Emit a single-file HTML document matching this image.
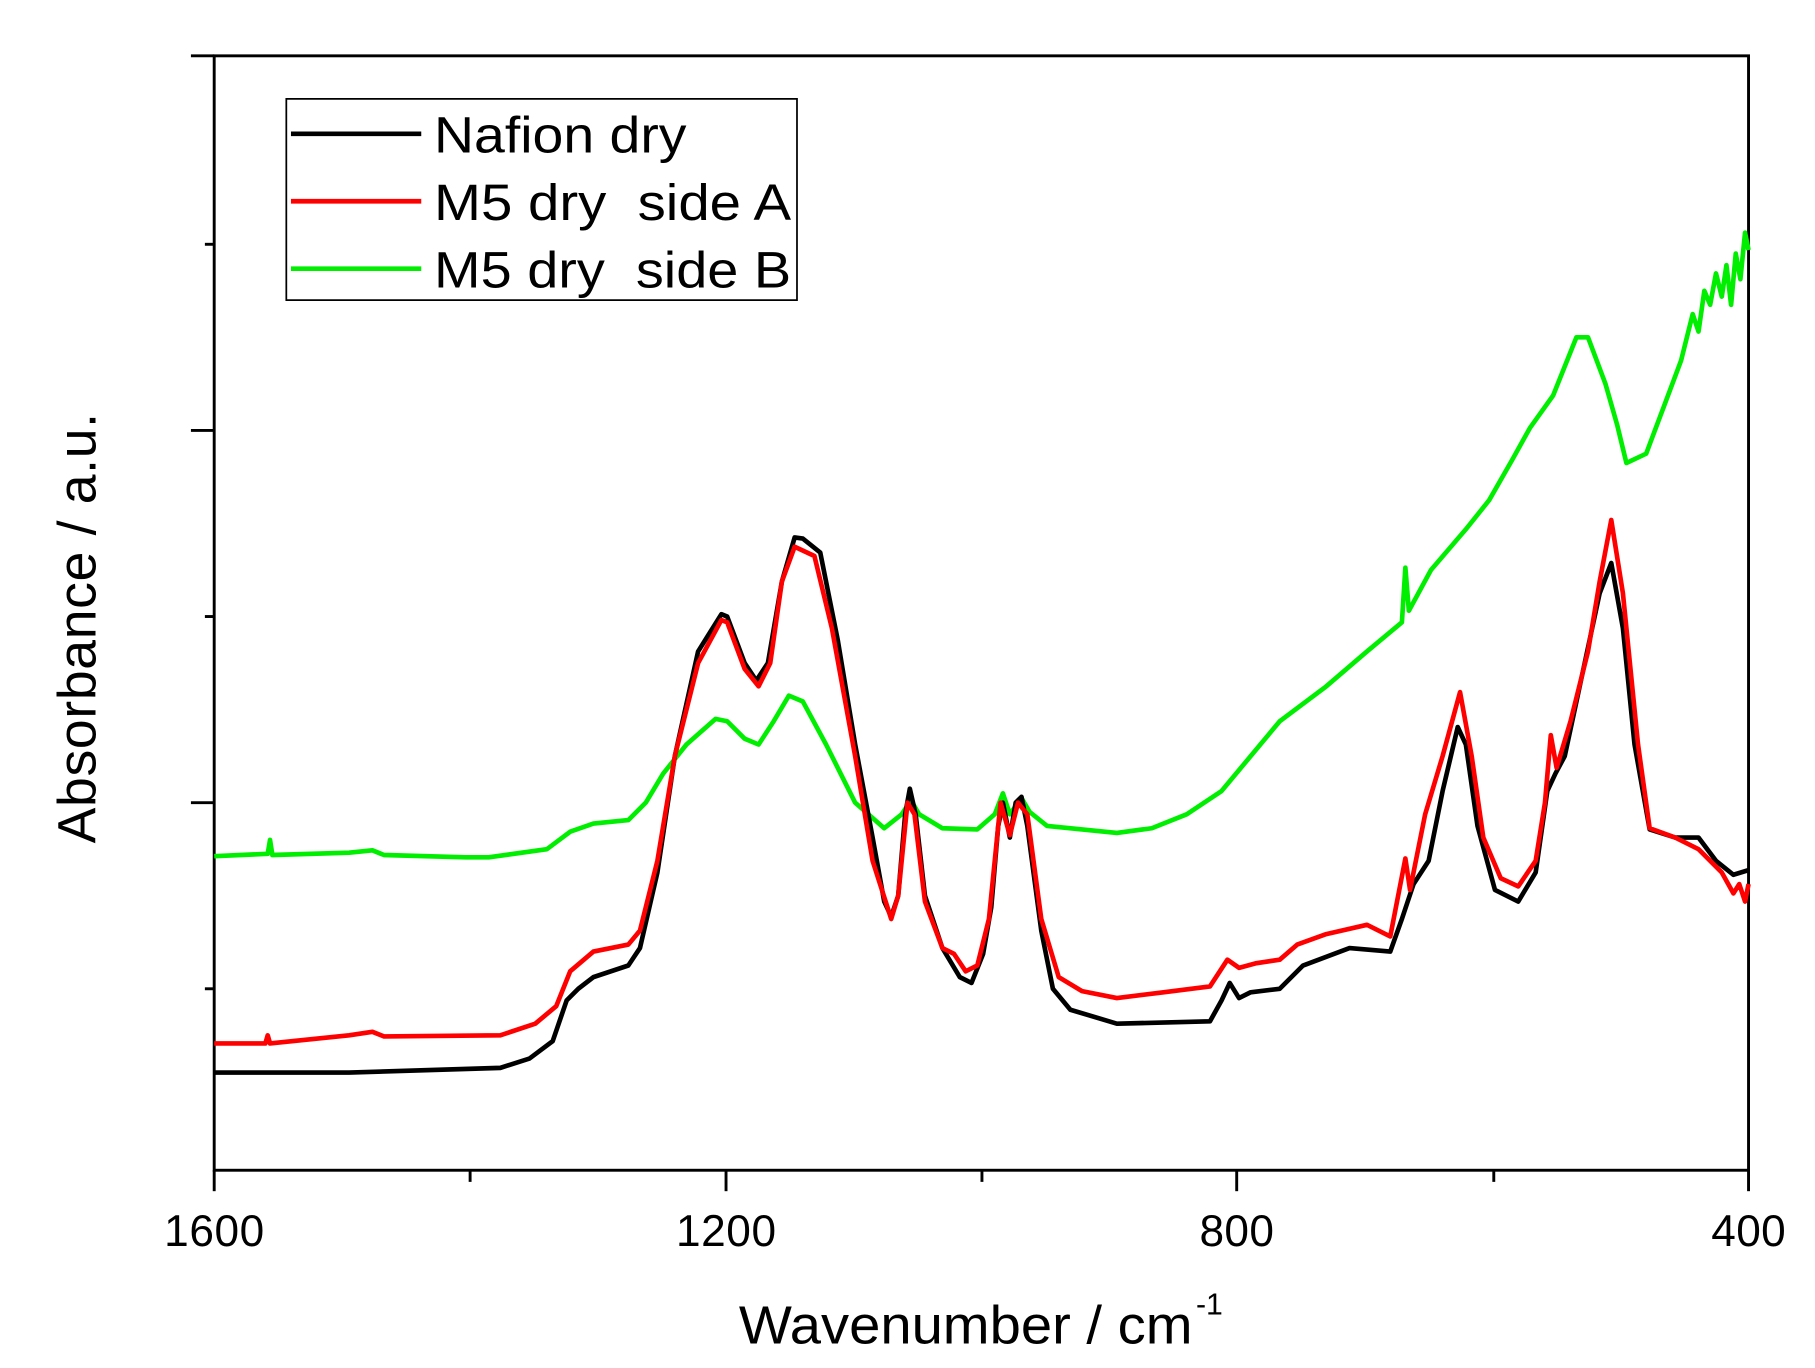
<!DOCTYPE html>
<html><head><style>html,body{margin:0;padding:0;background:#fff}svg{display:block}</style></head><body>
<svg width="1815" height="1368" viewBox="0 0 1560 1176" xmlns="http://www.w3.org/2000/svg" font-family="Liberation Sans, Arial, sans-serif">
<rect width="1560" height="1176" fill="#fff"/>
<g stroke="#000" stroke-width="2.5" fill="none">
<rect x="184" y="48" width="1319" height="958"/>
<line x1="164" y1="48" x2="184" y2="48"/>
<line x1="176" y1="210" x2="184" y2="210"/>
<line x1="164" y1="370" x2="184" y2="370"/>
<line x1="176" y1="530" x2="184" y2="530"/>
<line x1="164" y1="690" x2="184" y2="690"/>
<line x1="176" y1="850" x2="184" y2="850"/>
<line x1="184" y1="1006" x2="184" y2="1024"/>
<line x1="404" y1="1006" x2="404" y2="1016"/>
<line x1="624" y1="1006" x2="624" y2="1024"/>
<line x1="844" y1="1006" x2="844" y2="1016"/>
<line x1="1063" y1="1006" x2="1063" y2="1024"/>
<line x1="1284" y1="1006" x2="1284" y2="1016"/>
<line x1="1503" y1="1006" x2="1503" y2="1024"/>
</g>
<g font-size="38" text-anchor="middle" fill="#000">
<text x="184" y="1071" textLength="86">1600</text><text x="624" y="1071" textLength="86">1200</text><text x="1063" y="1071" textLength="64">800</text><text x="1503" y="1071" textLength="64">400</text>
</g>
<text x="635" y="1155" font-size="46" textLength="390" lengthAdjust="spacingAndGlyphs">Wavenumber / cm</text>
<text x="1028" y="1130" font-size="26">-1</text>
<text transform="translate(82,540) rotate(-90)" font-size="46" text-anchor="middle" textLength="370">Absorbance / a.u.</text>
<g fill="none" stroke-width="4" stroke-linejoin="round">
<polyline stroke="#00ee00" points="184,736 230,734 232,722 234,735 300,733 320,731 330,735 400,737 420,737 470,730 490,715 510,708 540,705 555,690 570,665 590,640 615,618 625,620 640,635 652,640 665,620 678,598 690,603 710,640 735,690 760,712 775,700 783,688 790,700 810,712 840,713 855,700 862,682 868,700 878,686 885,698 900,710 960,716 990,712 1020,700 1050,680 1075,650 1100,620 1140,590 1175,560 1205,535 1208,488 1211,525 1230,490 1260,455 1280,430 1300,395 1315,368 1335,340 1355,290 1365,290 1380,330 1390,365 1398,398 1415,390 1430,350 1445,310 1455,270 1460,285 1465,250 1470,262 1475,235 1480,255 1484,228 1488,262 1492,218 1496,240 1500,200 1503,215"/>
<polyline stroke="#000" points="184,922 300,922 430,918 455,910 475,895 487,860 497,850 510,840 540,830 550,815 565,750 580,650 600,560 620,528 625,530 640,570 650,585 660,570 672,500 683,462 690,463 705,475 720,550 735,640 750,720 760,775 766,788 772,770 778,700 782,678 787,700 795,770 810,815 825,840 835,845 845,820 852,780 858,710 862,690 868,720 873,690 878,685 883,710 895,800 905,850 920,868 960,880 1040,878 1050,860 1057,845 1065,858 1075,853 1100,850 1120,830 1160,815 1195,818 1205,790 1215,760 1228,740 1240,680 1253,625 1260,640 1270,710 1285,765 1305,775 1320,750 1330,680 1337,665 1345,650 1360,580 1375,510 1385,484 1395,540 1405,640 1418,713 1440,720 1460,720 1475,740 1490,752 1503,748"/>
<polyline stroke="#ff0000" points="184,897 228,897 230,890 232,897 300,890 320,887 330,891 430,890 460,880 478,865 490,835 510,818 540,812 550,800 565,740 580,650 600,570 620,533 625,535 640,575 652,590 662,570 672,500 683,470 700,478 715,540 735,650 750,740 766,790 772,770 780,690 786,700 795,775 810,815 820,820 830,835 840,830 850,790 860,690 868,718 875,690 883,700 895,790 910,840 930,852 960,858 1000,853 1040,848 1055,825 1065,832 1080,828 1100,825 1115,812 1140,803 1175,795 1195,805 1208,738 1212,765 1225,700 1240,650 1255,595 1265,650 1275,720 1290,755 1305,762 1320,740 1328,690 1333,632 1338,660 1350,620 1365,560 1375,500 1385,447 1395,510 1408,640 1418,712 1440,720 1460,730 1480,750 1490,768 1495,760 1500,775 1503,760"/>
</g>
<rect x="246" y="85" width="439" height="173" fill="#fff" stroke="#000" stroke-width="1.5"/>
<g stroke-width="4">
<line x1="250" y1="115" x2="362" y2="115" stroke="#000"/>
<line x1="250" y1="173" x2="362" y2="173" stroke="#ff0000"/>
<line x1="250" y1="231" x2="362" y2="231" stroke="#00ee00"/>
</g>
<g font-size="44" fill="#000">
<text x="373" y="131" textLength="217" lengthAdjust="spacingAndGlyphs">Nafion dry</text>
<text x="373" y="189" xml:space="preserve" textLength="307" lengthAdjust="spacingAndGlyphs">M5 dry  side A</text>
<text x="373" y="247" xml:space="preserve" textLength="307" lengthAdjust="spacingAndGlyphs">M5 dry  side B</text>
</g>
</svg>
</body></html>
